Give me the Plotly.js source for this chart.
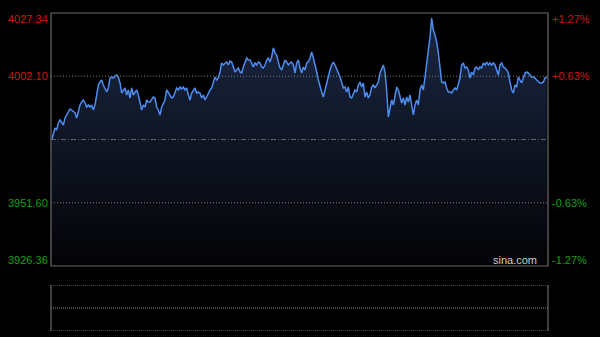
<!DOCTYPE html>
<html>
<head>
<meta charset="utf-8">
<script src="https://cdn.plot.ly/plotly-3.0.1.min.js"></script>
<style>
html,body{margin:0;padding:0;background:#000;}
#chart{width:600px;height:337px;}
</style>
</head>
<body>
<div id="chart"></div>
<script>
// Intraday index prices (one reading per ~1.67 px)
const prices = [
3976.65,3979.45,3981.44,3980.64,3983.44,3984.63,3983.84,3982.64,3985.43,3986.63,
3987.83,3989.02,3988.63,3987.83,3987.43,3985.43,3987.83,3990.62,3991.82,3992.62,
3991.42,3989.82,3990.62,3989.82,3990.62,3988.63,3990.62,3994.61,3998.60,3999.80,
4000.60,3998.60,3997.41,3995.81,3997.41,4001.40,4001.80,4001.40,4002.20,4002.59,
4001.80,3999.40,3995.41,3996.61,3997.41,3994.61,3996.61,3993.42,3997.41,3994.61,
3995.81,3996.61,3994.61,3991.42,3988.63,3990.62,3989.82,3992.62,3991.82,3991.82,
3992.62,3993.81,3993.42,3989.82,3988.63,3986.63,3989.82,3991.42,3992.62,3996.61,
3995.41,3994.61,3993.42,3993.81,3995.41,3997.41,3996.61,3997.80,3997.01,3997.80,
3996.61,3997.41,3994.61,3992.62,3995.41,3996.61,3997.41,3995.41,3995.81,3995.41,
3993.42,3994.61,3992.62,3993.81,3995.41,3996.61,3997.41,3999.40,4001.80,4000.60,
4001.40,4003.79,4007.38,4006.59,4007.38,4007.78,4006.59,4008.18,4007.78,4005.39,
4003.79,4004.59,4005.39,4003.79,4003.39,4005.79,4007.38,4009.38,4008.58,4008.58,
4007.38,4005.79,4007.38,4006.59,4007.78,4007.38,4005.79,4005.39,4006.59,4008.58,
4009.38,4007.78,4009.78,4013.37,4011.38,4010.58,4007.78,4005.39,4004.59,4006.59,
4008.58,4007.78,4006.59,4007.38,4007.78,4006.59,4003.39,4007.38,4008.58,4005.39,
4003.39,4005.79,4004.59,4007.38,4007.78,4009.38,4011.77,4009.38,4005.79,4003.79,
4000.60,3997.80,3995.81,3993.81,3996.61,3999.80,4001.80,4004.59,4006.59,4007.78,
4006.59,4004.59,4003.39,4001.80,3999.40,3997.41,3997.80,3995.81,3997.80,3993.81,
3993.42,3995.41,3996.61,3995.81,3998.60,3999.80,3997.80,3999.40,3993.81,3995.81,
3993.42,3994.61,3997.80,3998.60,3997.41,3998.60,3999.80,4003.39,4005.39,4006.59,
4003.79,3996.61,3985.83,3989.82,3992.62,3990.62,3993.81,3997.80,3996.61,3993.81,
3991.42,3993.42,3990.62,3993.81,3991.82,3994.61,3990.62,3986.63,3990.62,3992.62,
3990.62,3996.61,3998.60,3996.61,4001.80,4007.38,4011.38,4017.76,4025.34,4020.55,
4018.56,4015.77,4011.38,4005.79,3999.80,3999.40,3999.80,3997.41,3995.81,3995.81,
3995.41,3996.61,3997.41,3996.61,3999.40,4001.40,4006.59,4007.38,4005.39,4005.79,
4004.59,4001.40,4003.79,4002.59,4005.39,4005.79,4004.59,4005.79,4005.39,4007.38,
4006.59,4007.78,4006.59,4007.38,4006.59,4007.38,4006.59,4004.59,4002.59,4006.59,
4007.38,4005.79,4005.39,4004.59,4003.39,3999.80,3996.61,3995.41,3998.60,3997.80,
4001.80,4000.60,3999.40,4001.40,4003.39,4003.79,4003.39,4002.59,4001.80,4001.80,
4001.40,4000.60,3999.80,3999.40,3999.40,3999.80,4001.40,4001.80
];
const prevClose = 3976.85;
const yMin = 3926.36, yMax = 4027.34;
const leftLabels = ["4027.34","4002.10","3951.60","3926.36"];
const leftValues = [4027.34, 4002.10, 3951.60, 3926.36];
const rightLabels = ["+1.27%","+0.63%","-0.63%","-1.27%"];
const gridValues = [4002.10, 3951.60];

const idx = prices.map((_, i) => i);
const RED = '#d01414', GREEN = '#12a012';
const FONT = 'Liberation Sans, Arial, sans-serif';

const trace = {
  x: idx, y: prices, type: 'scatter', mode: 'lines',
  line: {color: '#4d8df0', width: 1.5},
  fill: 'tozeroy',
  fillgradient: {type: 'vertical', start: yMin, stop: yMax,
    colorscale: [[0, '#030306'], [1, '#1b2844']]},
  hoverinfo: 'skip', xaxis: 'x', yaxis: 'y'
};

const shapes = [];
gridValues.forEach(v => shapes.push({type:'line', xref:'paper', yref:'y', x0:0, x1:1, y0:v, y1:v,
  line:{color:'#7c7c7c', width:1, dash:'1px,2px'}}));
shapes.push({type:'line', xref:'paper', yref:'y', x0:0, x1:1, y0:prevClose, y1:prevClose,
  line:{color:'#5e6470', width:1, dash:'5px,2px,1px,2px'}});
shapes.push({type:'rect', xref:'paper', yref:'y domain', x0:0, x1:1, y0:0, y1:1,
  line:{color:'#6a6a6a', width:1.2}});
[0,1,2].forEach(v => shapes.push({type:'line', xref:'paper', yref:'y2', x0:0, x1:1, y0:v, y1:v,
  line:{color:'#8a8a8a', width:1.2, dash:'1px,1px'}}));
[0,1].forEach(xv => shapes.push({type:'line', xref:'paper', yref:'y2', x0:xv, x1:xv, y0:0, y1:2,
  line:{color:'#6a6a6a', width:1.2}}));

const annotations = [];
leftLabels.forEach((t, i) => {
  const shift = i === 0 ? -6 : (i === 3 ? 6 : 0);
  const col = leftValues[i] > prevClose ? RED : GREEN;
  annotations.push({xref:'paper', yref:'y', x:0, y:leftValues[i], xanchor:'right', yanchor:'middle',
    xshift:-1, yshift:shift, text:t, showarrow:false, font:{family:FONT, size:11, color:col}});
  annotations.push({xref:'paper', yref:'y', x:1, y:leftValues[i], xanchor:'left', yanchor:'middle',
    xshift:2, yshift:shift, text:rightLabels[i], showarrow:false, font:{family:FONT, size:11, color:col}});
});
annotations.push({xref:'paper', yref:'y', x:1, y:yMin, xanchor:'right', yanchor:'middle',
  xshift:-9, yshift:6, text:'sina.com', showarrow:false, font:{family:FONT, size:11, color:'#cfcfcf'}});

const layout = {
  width: 600, height: 337,
  paper_bgcolor: '#000', plot_bgcolor: '#000',
  margin: {l:51, r:52, t:13, b:6},
  showlegend: false,
  xaxis: {range: [-0.4, prices.length - 0.2], showgrid:false, zeroline:false, showticklabels:false, ticks:'', fixedrange:true},
  yaxis: {domain:[0.2044, 1], range:[yMin, yMax], showgrid:false, zeroline:false, showticklabels:false, ticks:''},
  xaxis2: {anchor:'y2', range:[0,1], visible:false},
  yaxis2: {domain:[0, 0.1447], range:[0,2], anchor:'x2', visible:false},
  shapes: shapes,
  annotations: annotations
};

Plotly.newPlot('chart', [trace], layout, {displayModeBar:false, staticPlot:true});
</script>
</body>
</html>
